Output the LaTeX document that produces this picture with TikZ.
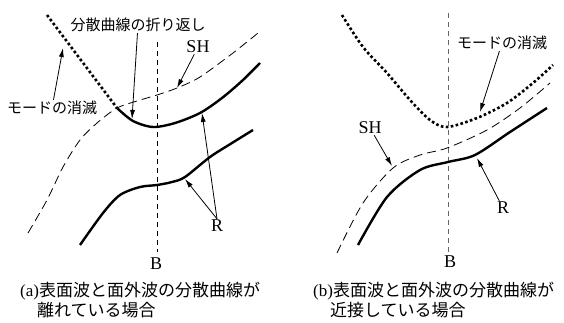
\documentclass[tikz,border=0pt]{standalone}
\usepackage{fontspec}
\setmainfont{Liberation Serif}
\newfontfamily\jp{Noto Sans CJK JP}
\usepackage{tikz}
\usetikzlibrary{arrows.meta}

\tikzset{
    curve/.style={line width=2.4pt},
    modeline/.style={line width=2.6pt, dash pattern=on 2.6pt off 2.4pt},
    shline/.style={line width=0.8pt, dash pattern=on 9pt off 5pt},
    bline/.style={line width=0.8pt, dash pattern=on 5pt off 4pt},
    pointer/.style={line width=0.8pt, -{Latex[length=9pt,width=5pt]}},
    jlabel/.style={font=\jp\fontsize{15}{15}\selectfont, inner sep=1pt},
    tlabel/.style={font=\fontsize{18}{18}\selectfont, inner sep=1pt},
    caption/.style={font=\fontsize{17}{17}\selectfont, inner sep=0pt, anchor=base west},
}

\begin{document}
\begin{tikzpicture}[x=1pt, y=-1pt]
    \useasboundingbox (0,0) rectangle (564,322);

    % (a) Curves apart
    \draw[bline] (157,42) -- (157,252);
    \node[tlabel] (ba) at (156,264) {B};

    \draw[modeline] (47,15) -- (117,108);
    \draw[shline] plot[smooth] coordinates {(28,233) (47,200) (63,167) (80,140) (97,123)
        (117,108) (137,101) (157,95) (177,88) (200,77) (233,53) (258,33)};
    \draw[curve] plot[smooth] coordinates {(117,108) (133,121) (153,127) (175,123)
        (200,113) (222,98) (243,80) (260,63)};
    \draw[curve] plot[smooth] coordinates {(80,245) (103,213) (120,195) (140,187)
        (157,185) (172,182) (185,177) (210,157) (232,143) (253,130)};

    % (a) Labels
    \node[jlabel] (folda) at (138,25) {分散曲線の折り返し};
    \coordinate (foldtip) at (132,119);
    \draw[pointer] (folda) -- (foldtip);

    \node[tlabel] (sha) at (198,47) {SH};
    \coordinate (shtipa) at (177,88);
    \draw[pointer] (sha) -- (shtipa);

    \node[jlabel] (modea) at (52,108) {モードの消滅};
    \coordinate (modetipa) at (63,48);
    \draw[pointer] (modea) -- (modetipa);

    \node[tlabel] (ra) at (217,226) {R};
    \coordinate (rtipup) at (202,113);
    \coordinate (rtiplow) at (185,179);
    \draw[pointer] (ra.north) -- (rtipup);
    \draw[pointer] (ra.north) -- (rtiplow);

    \node[caption] (capa1) at (20,296) {(a){\jp 表面波と面外波の分散曲線が}};
    \node[caption] (capa2) at (37,316) {\jp 離れている場合};

    % (b) Curves close
    \draw[bline, black!60] (448,13) -- (448,252);
    \node[tlabel] (bb) at (450,262) {B};

    \draw[modeline] plot[smooth] coordinates {(342,15) (363,47) (387,73) (410,100)
        (430,120) (447,127) (477,118) (507,103) (533,83) (553,65)};
    \draw[shline] plot[smooth] coordinates {(337,253) (363,203) (393,168) (420,155)
        (447,148) (487,130) (520,108) (550,83)};
    \draw[curve] plot[smooth] coordinates {(358,245) (387,197) (420,170) (448,162)
        (475,155) (510,132) (547,108)};

    % (b) Labels
    \node[jlabel] (modeb) at (502,43) {モードの消滅};
    \coordinate (modetipb) at (480,112);
    \draw[pointer] (modeb) -- (modetipb);

    \node[tlabel] (shb) at (370,128) {SH};
    \coordinate (shtipb) at (392,166);
    \draw[pointer] (shb) -- (shtipb);

    \node[tlabel] (rb) at (503,208) {R};
    \coordinate (rtipb) at (477,158);
    \draw[pointer] (rb) -- (rtipb);

    \node[caption] (capb1) at (313,296) {(b){\jp 表面波と面外波の分散曲線が}};
    \node[caption] (capb2) at (330,316) {\jp 近接している場合};
\end{tikzpicture}
\end{document}
